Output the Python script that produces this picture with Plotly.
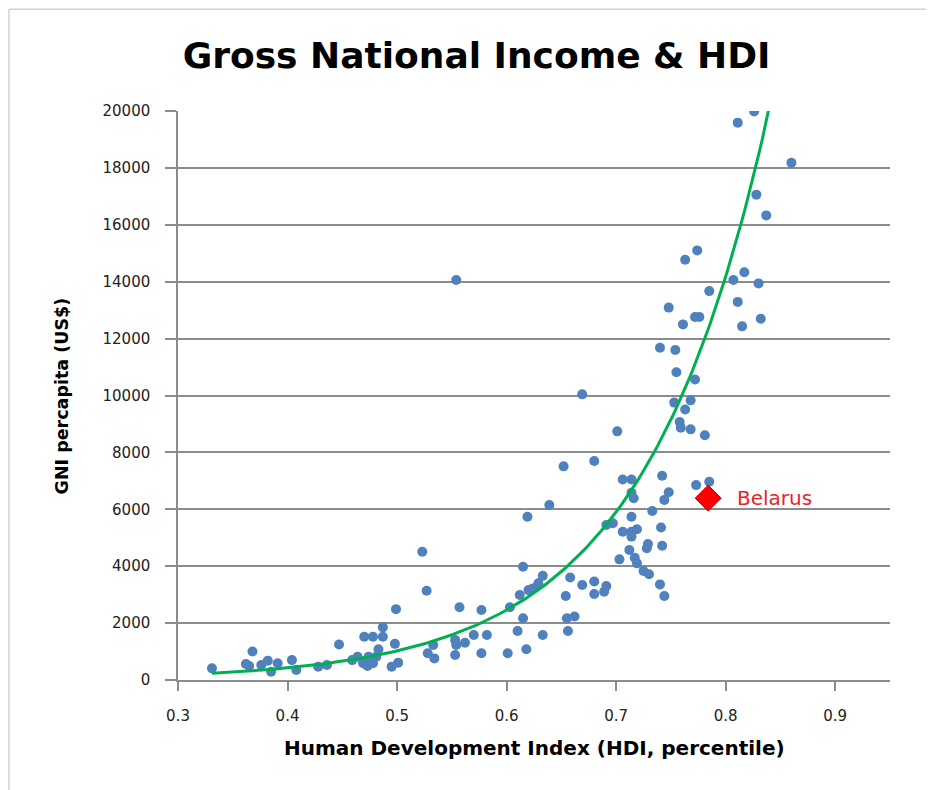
import numpy as np
import plotly.graph_objects as go

# ---- data ----
hdi = [0.331, 0.362, 0.365, 0.368, 0.376, 0.382, 0.385, 0.391, 0.404, 0.408,
       0.428, 0.436, 0.447, 0.459, 0.464, 0.469, 0.470, 0.473, 0.474, 0.478,
       0.478, 0.481, 0.483, 0.487, 0.487, 0.495, 0.498, 0.499, 0.501, 0.523,
       0.527, 0.528, 0.533, 0.534, 0.553, 0.553, 0.554, 0.554, 0.557, 0.562,
       0.570, 0.577, 0.577, 0.582, 0.601, 0.603, 0.610, 0.612, 0.615, 0.615,
       0.618, 0.619, 0.620, 0.624, 0.629, 0.633, 0.633, 0.639, 0.652, 0.654,
       0.655, 0.656, 0.658, 0.662, 0.669, 0.669, 0.680, 0.680, 0.680, 0.689,
       0.691, 0.691, 0.697, 0.701, 0.703, 0.706, 0.714, 0.706, 0.714, 0.719,
       0.714, 0.712, 0.714, 0.716, 0.714, 0.717, 0.719, 0.725, 0.730, 0.729,
       0.728, 0.733, 0.740, 0.744, 0.742, 0.741, 0.742, 0.744, 0.748, 0.740,
       0.754, 0.755, 0.772, 0.753, 0.768, 0.763, 0.758, 0.759, 0.768, 0.781,
       0.773, 0.785, 0.748, 0.761, 0.772, 0.776, 0.763, 0.774, 0.785, 0.807,
       0.817, 0.830, 0.811, 0.815, 0.832, 0.826, 0.811, 0.860, 0.828, 0.837]
gni = [410, 560, 490, 1000, 530, 680, 290, 590, 700, 350,
       470, 530, 1250, 700, 820, 590, 1520, 490, 820, 590,
       1520, 820, 1080, 1520, 1850, 470, 1270, 2490, 610, 4510,
       3140, 940, 1230, 760, 1410, 880, 1230, 14060, 2560, 1310,
       1580, 2460, 940, 1580, 940, 2560, 1720, 2990, 2170, 3980,
       1080, 5740, 3160, 3220, 3400, 3660, 1580, 6150, 7510, 2950,
       2170, 1720, 3600, 2230, 10040, 3340, 7700, 3460, 3020, 3100,
       3300, 5450, 5510, 8740, 4240, 7050, 7050, 5210, 5210, 5300,
       5040, 4570, 6580, 6390, 5740, 4300, 4100, 3830, 3720, 4780,
       4630, 5940, 3360, 2950, 4720, 5360, 7180, 6330, 6600, 11680,
       11600, 10820, 10560, 9750, 9830, 9510, 9070, 8870, 8810, 8600,
       6850, 6970, 13090, 12500, 12760, 12760, 14770, 15100, 13670, 14060,
       14330, 13940, 13290, 12430, 12700, 19980, 19590, 18180, 17060, 16330]

highlight_name = "Belarus"
highlight_hdi = [0.784]
highlight_gni = [6390]

x_ticks = [0.3, 0.4, 0.5, 0.6, 0.7, 0.8, 0.9]
y_ticks = list(range(0, 20001, 2000))

# exponential trendline y = a * exp(b * x), coefficients
trend_a = 12.83
trend_b = 8.76
tx = np.linspace(min(hdi), max(hdi), 200)
ty = trend_a * np.exp(trend_b * tx)

FONT = "DejaVu Sans"
GRID = "#8c8c8c"

fig = go.Figure()
fig.add_trace(go.Scatter(x=hdi, y=gni, mode="markers",
                         marker=dict(color="#4f81bd", size=10, line=dict(width=0)),
                         showlegend=False, hoverinfo="x+y"))
fig.add_trace(go.Scatter(x=tx, y=ty, mode="lines",
                         line=dict(color="#00b050", width=3),
                         showlegend=False, hoverinfo="skip"))
fig.add_trace(go.Scatter(x=highlight_hdi, y=highlight_gni, mode="markers",
                         marker=dict(color="#ff0000", size=20, symbol="diamond",
                                     line=dict(color="#c00000", width=1)),
                         showlegend=False, name=highlight_name))

fig.add_annotation(x=highlight_hdi[0], y=highlight_gni[0], text=highlight_name,
                   showarrow=False, xanchor="left", yanchor="middle", xshift=27,
                   font=dict(family=FONT, size=20, color="#e3262b"))

fig.add_annotation(x=0.5, y=-0.1195, xref="paper", yref="paper",
                   text="<b>Human Development Index (HDI, percentile)</b>",
                   showarrow=False, xanchor="center", yanchor="middle",
                   font=dict(family=FONT, size=20, color="#000000"))
fig.add_annotation(x=-0.163, y=0.5, xref="paper", yref="paper",
                   text="<b>GNI percapita (US$)</b>", textangle=-90,
                   showarrow=False, xanchor="center", yanchor="middle",
                   font=dict(family=FONT, size=17.5, color="#000000"))

# outer chart border
fig.add_shape(type="rect", xref="paper", yref="paper",
              x0=-0.2374, x1=1.3, y0=-0.3, y1=1.179,
              line=dict(color="#bdbdbd", width=1), fillcolor="rgba(0,0,0,0)", layer="below")

fig.update_layout(
    width=926, height=782,
    margin=dict(l=170, r=44, t=103, b=110),
    paper_bgcolor="white", plot_bgcolor="white",
    title=dict(text="<b>Gross National Income & HDI</b>", x=0.506, y=1 - 47 / 782,
               xanchor="center", yanchor="middle", xref="container", yref="container",
               font=dict(family=FONT, size=36, color="#000000")),
    font=dict(family=FONT, size=15, color="#222222"),
)
fig.update_xaxes(range=[0.3, 0.95], tickvals=x_ticks, ticktext=[f"{v:.1f}" for v in x_ticks],
                 showgrid=False, zeroline=False, showline=True, linecolor=GRID, linewidth=1.5,
                 ticks="outside", ticklen=9, tickcolor=GRID, tickwidth=1.5,
                 ticklabelstandoff=12,
                 tickfont=dict(family=FONT, size=15, color="#222222"))
fig.update_yaxes(range=[0, 20000], tickvals=y_ticks, ticktext=[str(v) for v in y_ticks],
                 showgrid=True, gridcolor=GRID, gridwidth=1.5, zeroline=False,
                 showline=True, linecolor=GRID, linewidth=1.5,
                 ticks="outside", ticklen=11, tickcolor=GRID, tickwidth=1.5,
                 ticklabelstandoff=12,
                 tickfont=dict(family=FONT, size=15, color="#222222"))

fig.write_html("out.html")
